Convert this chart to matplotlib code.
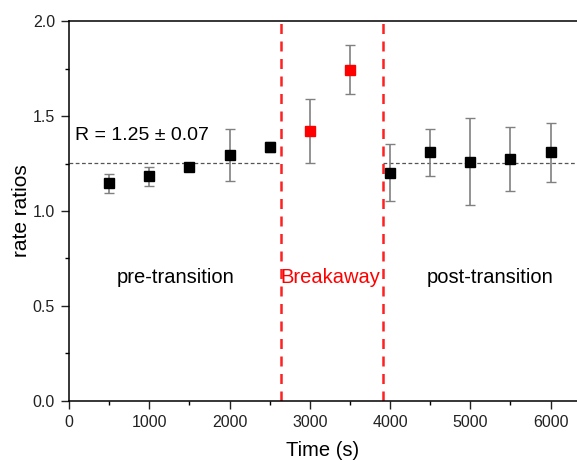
import matplotlib
matplotlib.use("Agg")
import matplotlib.pyplot as plt
from matplotlib.ticker import MultipleLocator, FormatStrFormatter

plt.rcParams['font.family'] = ['Liberation Sans', 'DejaVu Sans']

# Measured rate ratios over time
time_pre = [500, 1000, 1500, 2000, 2500]
ratio_pre = [1.145, 1.184, 1.233, 1.295, 1.337]
err_pre = [0.05, 0.05, 0.01, 0.137, 0.025]

time_break = [3000, 3500]
ratio_break = [1.421, 1.744]
err_break = [0.17, 0.13]

time_post = [4000, 4500, 5000, 5500, 6000]
ratio_post = [1.202, 1.309, 1.26, 1.274, 1.309]
err_post = [0.15, 0.124, 0.23, 0.17, 0.156]

mean_ratio = 1.254
transition_times = [2640, 3910]

fig = plt.figure(figsize=(5.77, 4.61), dpi=100)
ax = fig.add_axes([0.1196, 0.1302, 0.8804, 0.8242])

ebkw = dict(fmt='s', ms=6.5, ecolor='#808080', elinewidth=1.2, capsize=3.5,
            capthick=1.0, zorder=3)
ax.errorbar(time_pre, ratio_pre, yerr=err_pre, color='black', **ebkw)
ax.errorbar(time_post, ratio_post, yerr=err_post, color='black', **ebkw)
ax.errorbar(time_break, ratio_break, yerr=err_break, color='red', **ebkw)

# average level outside the breakaway window
ax.plot([0, transition_times[0]], [mean_ratio, mean_ratio], ls=(0, (3, 2)),
        color='#555555', lw=0.9, zorder=2)
ax.plot([transition_times[1], 6400], [mean_ratio, mean_ratio], ls=(0, (3, 2)),
        color='#555555', lw=0.9, zorder=2)

for t in transition_times:
    ax.axvline(t, color='#ff2020', ls=(0, (4, 3)), lw=1.8, zorder=2)

ax.text(80, 1.40, 'R = 1.25 ± 0.07', fontsize=14, va='center', ha='left')
ax.text(1325, 0.65, 'pre-transition', fontsize=14.5, ha='center', va='center')
ax.text(3255, 0.65, 'Breakaway', fontsize=14.5, ha='center', va='center', color='red')
ax.text(5245, 0.65, 'post-transition', fontsize=14.5, ha='center', va='center')

ax.set_xlim(0, 6330)
ax.set_ylim(0, 2.0)
ax.xaxis.set_major_locator(MultipleLocator(1000))
ax.xaxis.set_minor_locator(MultipleLocator(500))
ax.yaxis.set_major_locator(MultipleLocator(0.5))
ax.yaxis.set_minor_locator(MultipleLocator(0.25))
ax.yaxis.set_major_formatter(FormatStrFormatter('%.1f'))
ax.tick_params(which='major', direction='out', length=6, width=1, labelsize=11.5,
               colors='#222222', pad=4)
ax.tick_params(which='minor', direction='out', length=3, width=1)
ax.spines['right'].set_visible(False)
for s in ['left', 'bottom', 'top']:
    ax.spines[s].set_linewidth(1.1)

ax.set_xlabel('Time (s)', fontsize=14.5, labelpad=8)
ax.set_ylabel('rate ratios', fontsize=15, labelpad=1)

fig.savefig('out.png', dpi=100)
